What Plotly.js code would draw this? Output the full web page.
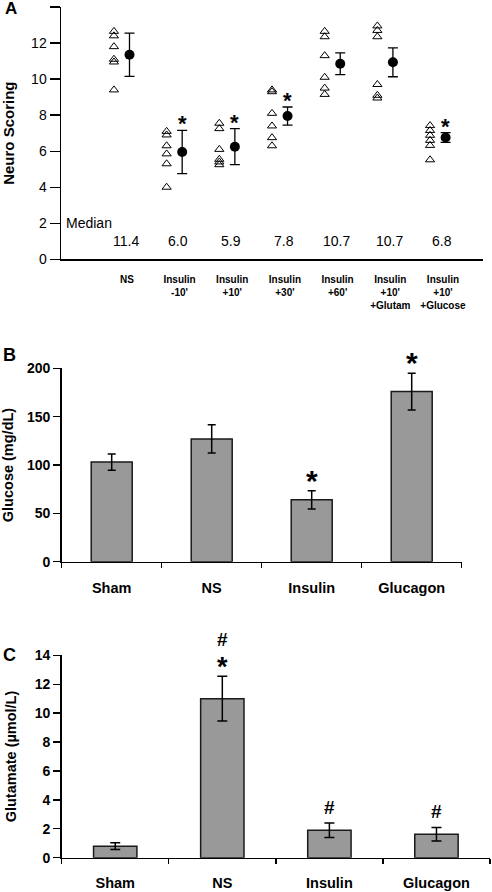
<!DOCTYPE html>
<html>
<head>
<meta charset="utf-8">
<script src="https://cdn.plot.ly/plotly-3.0.1.min.js"></script>
<style>
html,body{margin:0;padding:0;background:#fff;}
#chart{width:492px;height:892px;}
</style>
</head>
<body>
<div id="chart"></div>
<script>
// ---------- Panel A data ----------
const catsA = ["NS","Insulin<br>-10'","Insulin<br>+10'","Insulin<br>+30'","Insulin<br>+60'","Insulin<br>+10'<br>+Glutam","Insulin<br>+10'<br>+Glucose"];
const ptsNS      = [12.65, 12.4, 11.8, 11.1, 10.95, 9.4];
const ptsM10     = [7.1, 6.9, 6.3, 5.85, 5.3, 4.0];
const ptsP10     = [7.55, 7.25, 6.1, 5.55, 5.4, 5.25];
const ptsP30     = [9.4, 9.3, 8.1, 7.4, 6.75, 6.3];
const ptsP60     = [12.65, 12.35, 11.3, 10.1, 9.5, 9.15];
const ptsGlutam  = [12.95, 12.7, 12.35, 9.7, 9.1, 8.95];
const ptsGlucose = [7.42, 7.15, 6.88, 6.6, 6.32, 5.52];
const meanA   = [11.35, 5.95, 6.25, 7.95, 10.85, 10.93, 6.76];
const errA    = [1.2, 1.2, 1.0, 0.5, 0.6, 0.8, 0.27];
const medianA = ["11.4","6.0","5.9","7.8","10.7","10.7","6.8"];
const starA   = [false, true, true, true, false, false, true];

// ---------- Panels B & C data ----------
const catsBC = ["Sham","NS","Insulin","Glucagon"];
const glucose    = [103, 127, 64, 176];
const glucoseErr = [8.5, 14.7, 9.5, 19];
const glucoseStar = [false, false, true, true];
const glutamate    = [0.8, 11.0, 1.9, 1.62];
const glutamateErr = [0.23, 1.55, 0.5, 0.47];
const glutamateStar = [false, true, false, false];
const glutamateHash = [false, true, true, true];

// ---------- build ----------
const groupsA = [ptsNS, ptsM10, ptsP10, ptsP30, ptsP60, ptsGlutam, ptsGlucose];
const triOff = -0.145, meanOff = 0.15;
const triX = [], triY = [];
groupsA.forEach((g, i) => g.forEach(v => { triX.push(i + triOff); triY.push(v); }));
const idxA = catsA.map((c, i) => i);

const AR = "Arial, 'Liberation Sans', sans-serif";

const traces = [
  {type:'scatter', mode:'markers', x:triX, y:triY, xaxis:'x', yaxis:'y',
   marker:{symbol:'triangle-up-open', size:8, color:'#000', line:{width:1, color:'#000'}},
   hoverinfo:'y', showlegend:false},
  {type:'scatter', mode:'markers', x:idxA.map(i => i + meanOff), y:meanA, xaxis:'x', yaxis:'y',
   marker:{symbol:'circle', size:10, color:'#000'},
   error_y:{type:'data', array:errA, visible:true, color:'#000', thickness:1.3, width:5},
   showlegend:false},
  {type:'bar', x:catsBC, y:glucose, xaxis:'x2', yaxis:'y2', width:0.41,
   marker:{color:'#999999', line:{color:'#1a1a1a', width:1.5}},
   error_y:{type:'data', array:glucoseErr, visible:true, color:'#000', thickness:1.5, width:4},
   showlegend:false},
  {type:'bar', x:catsBC, y:glutamate, xaxis:'x3', yaxis:'y3', width:0.405,
   marker:{color:'#999999', line:{color:'#1a1a1a', width:1.5}},
   error_y:{type:'data', array:glutamateErr, visible:true, color:'#000', thickness:1.5, width:5},
   showlegend:false}
];

const annotations = [];
// Panel letters
annotations.push({xref:'paper', yref:'paper', x:3/492, y:1-8/892, text:'<b>A</b>', showarrow:false, xanchor:'left', yanchor:'middle', font:{family:AR, size:17, color:'#000'}});
annotations.push({xref:'paper', yref:'paper', x:1/492, y:1-355/892, text:'<b>B</b>', showarrow:false, xanchor:'left', yanchor:'middle', font:{family:AR, size:18, color:'#000'}});
annotations.push({xref:'paper', yref:'paper', x:1/492, y:1-655/892, text:'<b>C</b>', showarrow:false, xanchor:'left', yanchor:'middle', font:{family:AR, size:18, color:'#000'}});
// Median label & values
annotations.push({xref:'x', yref:'y', x:-1.1, y:2, text:'Median', showarrow:false, xanchor:'left', yanchor:'middle', font:{family:AR, size:14, color:'#000'}});
medianA.forEach((m, i) => annotations.push({xref:'x', yref:'y', x:i + 0.08, y:1.0, text:m, showarrow:false, xanchor:'center', yanchor:'middle', font:{family:AR, size:14, color:'#000'}}));
// Panel A stars
starA.forEach((s, i) => { if (s) annotations.push({xref:'x', yref:'y', x:i + meanOff, y:meanA[i] + errA[i], text:'<b>*</b>', showarrow:false, xanchor:'center', yanchor:'bottom', yshift:-8, font:{family:AR, size:22, color:'#000'}}); });
// Panel B stars
glucoseStar.forEach((s, i) => { if (s) annotations.push({xref:'x2', yref:'y2', x:catsBC[i], y:glucose[i] + glucoseErr[i], text:'<b>*</b>', showarrow:false, xanchor:'center', yanchor:'bottom', yshift:-8, font:{family:AR, size:30, color:'#000'}}); });
// Panel C marks
glutamateStar.forEach((s, i) => { if (s) annotations.push({xref:'x3', yref:'y3', x:catsBC[i], y:glutamate[i] + glutamateErr[i], text:'<b>*</b>', showarrow:false, xanchor:'center', yanchor:'middle', yshift:9.5, borderpad:0, font:{family:AR, size:27, color:'#000'}}); });
glutamateHash.forEach((h, i) => { if (h) annotations.push({xref:'x3', yref:'y3', x:catsBC[i], y:glutamate[i] + glutamateErr[i], text:'<b>#</b>', showarrow:false, xanchor:'center', yanchor:'middle', yshift:glutamateStar[i] ? 37 : 15.5, borderpad:0, font:{family:AR, size:19, color:'#000'}}); });

const axLine = {showline:true, linecolor:'#000', linewidth:1.5, zeroline:false, showgrid:false};

const layout = {
  width:492, height:892,
  margin:{l:0, r:0, t:0, b:0},
  paper_bgcolor:'#fff', plot_bgcolor:'rgba(0,0,0,0)',
  font:{family:AR, color:'#000'},
  showlegend:false,
  xaxis:Object.assign({}, axLine, {domain:[61/492, 483/492], range:[-1.15, 6.86], anchor:'y',
    tickmode:'array', tickvals:idxA.map(i => i + 0.1), ticktext:catsA.map(c => '<b>' + c + '</b>'),
    ticks:'', ticklabelstandoff:10, tickfont:{family:AR, size:10, color:'#000'}}),
  yaxis:Object.assign({}, axLine, {domain:[1-259.3/892, 1-7/892], range:[0, 14], anchor:'x',
    tickmode:'array', tickvals:[0,2,4,6,8,10,12,14], ticks:'outside', ticklen:10, tickwidth:1.3, tickcolor:'#000',
    tickfont:{family:AR, size:14, color:'#000'},
    title:{text:'<b>Neuro Scoring</b>', font:{family:AR, size:15, color:'#000'}, standoff:14}}),
  xaxis2:Object.assign({}, axLine, {domain:[61.7/492, 461.7/492], range:[-0.5, 3.5], anchor:'y2', type:'category',
    ticks:'outside', tickson:'boundaries', ticklen:5, tickwidth:1.3, tickcolor:'#000',
    ticktext:catsBC.map(c => '<b>' + c + '</b>'), tickvals:catsBC, ticklabelstandoff:12,
    tickfont:{family:AR, size:14.5, color:'#000'}}),
  yaxis2:Object.assign({}, axLine, {domain:[1-561.7/892, 1-368.3/892], range:[0, 200], anchor:'x2',
    tickmode:'array', tickvals:[0,50,100,150,200], ticktext:['<b>0</b>','<b>50</b>','<b>100</b>','<b>150</b>','<b>200</b>'],
    ticks:'outside', ticklen:7, tickwidth:1.3, tickcolor:'#000',
    tickfont:{family:AR, size:14, color:'#000'},
    title:{text:'<b>Glucose (mg/dL)</b>', font:{family:AR, size:14.5, color:'#000'}, standoff:11}}),
  xaxis3:Object.assign({}, axLine, {domain:[61.7/492, 490/492], range:[-0.5, 3.5], anchor:'y3', type:'category',
    ticks:'outside', tickson:'boundaries', ticklen:5, tickwidth:1.3, tickcolor:'#000',
    ticktext:catsBC.map(c => '<b>' + c + '</b>'), tickvals:catsBC, ticklabelstandoff:11,
    tickfont:{family:AR, size:14.5, color:'#000'}}),
  yaxis3:Object.assign({}, axLine, {domain:[1-857.7/892, 1-655.3/892], range:[0, 14], anchor:'x3',
    tickmode:'array', tickvals:[0,2,4,6,8,10,12,14], ticktext:[0,2,4,6,8,10,12,14].map(v => '<b>' + v + '</b>'),
    ticks:'outside', ticklen:7, tickwidth:1.3, tickcolor:'#000',
    tickfont:{family:AR, size:14, color:'#000'},
    title:{text:'<b>Glutamate (µmol/L)</b>', font:{family:AR, size:14.5, color:'#000'}, standoff:14}}),
  annotations:annotations
};

Plotly.newPlot('chart', traces, layout, {staticPlot:true, displayModeBar:false});
</script>
</body>
</html>
